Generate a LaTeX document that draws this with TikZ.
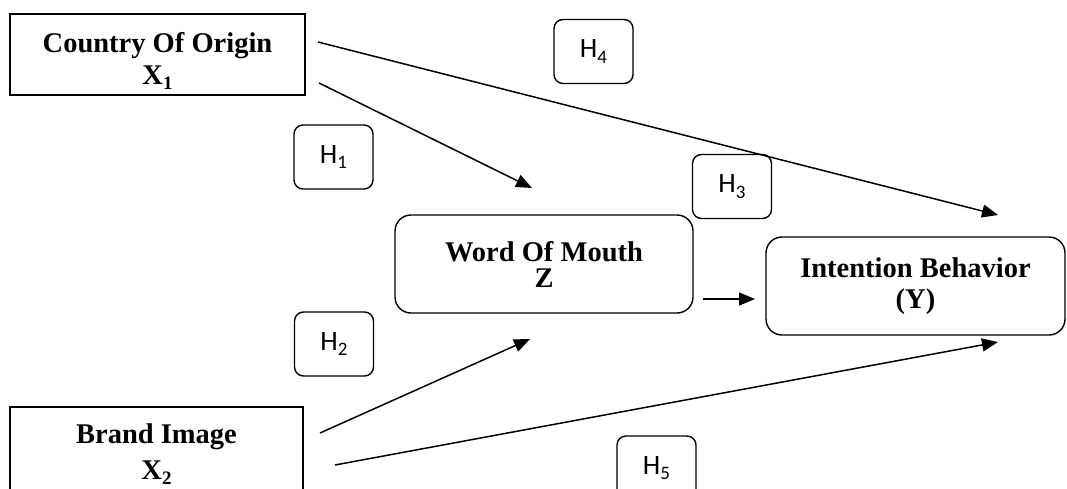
\documentclass[tikz,border=0pt]{standalone}
\usepackage{fontspec}
\setmainfont{Liberation Serif}
\newfontfamily\hfont{Carlito}
\usetikzlibrary{arrows.meta}
\newcommand\mysub[1]{\raisebox{-0.18em}{\fontsize{19}{19}\selectfont #1}}
\newcommand\hsub[1]{\raisebox{-0.2em}{\fontsize{19}{19}\selectfont #1}}
\newcommand\topstrut[1]{\rule{0pt}{#1}}
\begin{document}
\begin{tikzpicture}[x=1pt,y=-1pt,
  mainbox/.style={draw, line width=1.4pt, inner sep=0pt, align=center},
  mfont/.style={font=\fontsize{28.5}{#1}\selectfont\bfseries},
  hbox/.style={draw, line width=1.4pt, rounded corners=9pt, minimum width=79pt, minimum height=64pt, inner sep=0pt, font=\hfont\fontsize{28}{33}\selectfont},
  conn/.style={line width=1.5pt, -{Triangle[length=16pt,width=13pt]}}]
\useasboundingbox (0,0) rectangle (1067,488);
\clip (0,0) rectangle (1067,488);
% main boxes
\node[mainbox, mfont=32, minimum width=295pt, minimum height=81pt] (coo) at (157.5,54.5) {\topstrut{33pt}Country Of Origin\\X\mysub{1}};
\node[mainbox, mfont=36, minimum width=293pt, minimum height=83pt] (bi) at (156.5,448.5) {\topstrut{31pt}Brand Image\\X\mysub{2}};
\node[mainbox, mfont=26, rounded corners=16pt, minimum width=298pt, minimum height=98pt] (wom) at (544,264) {Word Of Mouth\\Z};
\node[mainbox, mfont=31, rounded corners=16pt, minimum width=299pt, minimum height=98pt] (ib) at (915.5,286) {Intention Behavior\\(Y)};
% hypothesis boxes
\node[hbox] (h1) at (333.5,157) {H\hsub{1}};
\node[hbox] (h2) at (334,344) {H\hsub{2}};
\node[hbox] (h3) at (732,186.5) {H\hsub{3}};
\node[hbox] (h4) at (593.5,51.5) {H\hsub{4}};
\node[hbox] (h5) at (656.5,468) {H\hsub{5}};
% connector end points
\coordinate (cooA) at (318,42);
\coordinate (cooB) at (319,83);
\coordinate (biA) at (320,433);
\coordinate (biB) at (335,465);
\coordinate (womT) at (532,188);
\coordinate (womB) at (530,339);
\coordinate (womR) at (703,299);
\coordinate (ibL) at (755,299);
\coordinate (ibT) at (998,215);
\coordinate (ibB) at (998,342);
% connectors
\draw[conn] (cooB) -- (womT);
\draw[conn] (cooA) -- (ibT);
\draw[conn] (biA) -- (womB);
\draw[conn] (biB) -- (ibB);
\draw[conn] (womR) -- (ibL);
\end{tikzpicture}
\end{document}
